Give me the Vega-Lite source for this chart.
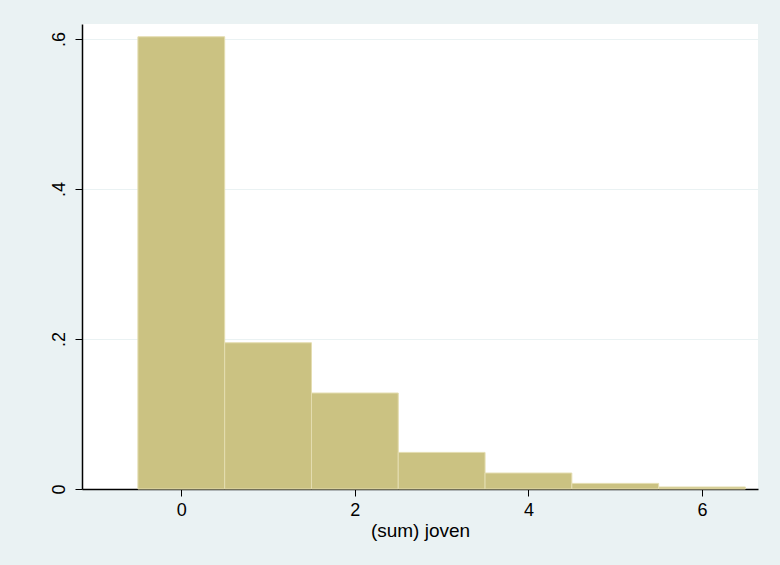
{
  "$schema": "https://vega.github.io/schema/vega-lite/v6.json",
  "width": 676,
  "height": 465,
  "autosize": {"type": "none"},
  "padding": {"left": 82, "top": 24, "right": 22, "bottom": 76},
  "background": "#eaf2f3",
  "config": {
    "view": {"fill": "white", "stroke": null},
    "axis": {"labelFont": "Liberation Sans", "titleFont": "Liberation Sans", "labelColor": "#000000", "titleColor": "#000000", "domainColor": "#000000", "tickColor": "#000000"}
  },
  "data": {
    "values": [
      {"lo": -0.5, "hi": 0.5, "density": 0.603},
      {"lo": 0.5, "hi": 1.5, "density": 0.195},
      {"lo": 1.5, "hi": 2.5, "density": 0.128},
      {"lo": 2.5, "hi": 3.5, "density": 0.0488},
      {"lo": 3.5, "hi": 4.5, "density": 0.0213},
      {"lo": 4.5, "hi": 5.5, "density": 0.0075},
      {"lo": 5.5, "hi": 6.5, "density": 0.0027}
    ]
  },
  "mark": {"type": "rect", "fill": "#cbc282", "stroke": "#e4ddb0", "strokeWidth": 1},
  "encoding": {
    "x": {
      "field": "lo", "type": "quantitative",
      "scale": {"domain": [-1.144, 6.645], "nice": false, "zero": false},
      "axis": {"values": [0, 2, 4, 6], "grid": false, "title": "(sum) joven", "titleFontSize": 19, "titleFontWeight": "normal", "titlePadding": 2, "labelFontSize": 18, "labelPadding": 5, "tickSize": 7, "domainWidth": 1.5}
    },
    "x2": {"field": "hi"},
    "y": {
      "field": "density", "type": "quantitative",
      "scale": {"domain": [0, 0.62], "nice": false},
      "axis": {"values": [0, 0.2, 0.4, 0.6], "title": null, "labelExpr": "datum.value == 0 ? '0' : replace(format(datum.value, '.1f'), '0.', '.')", "labelAngle": -90, "labelAlign": "center", "labelBaseline": "bottom", "labelFontSize": 18, "labelPadding": 7, "tickSize": 7, "domainWidth": 1.5, "grid": true, "gridColor": "#eaf2f3", "gridWidth": 1.2}
    }
  }
}
